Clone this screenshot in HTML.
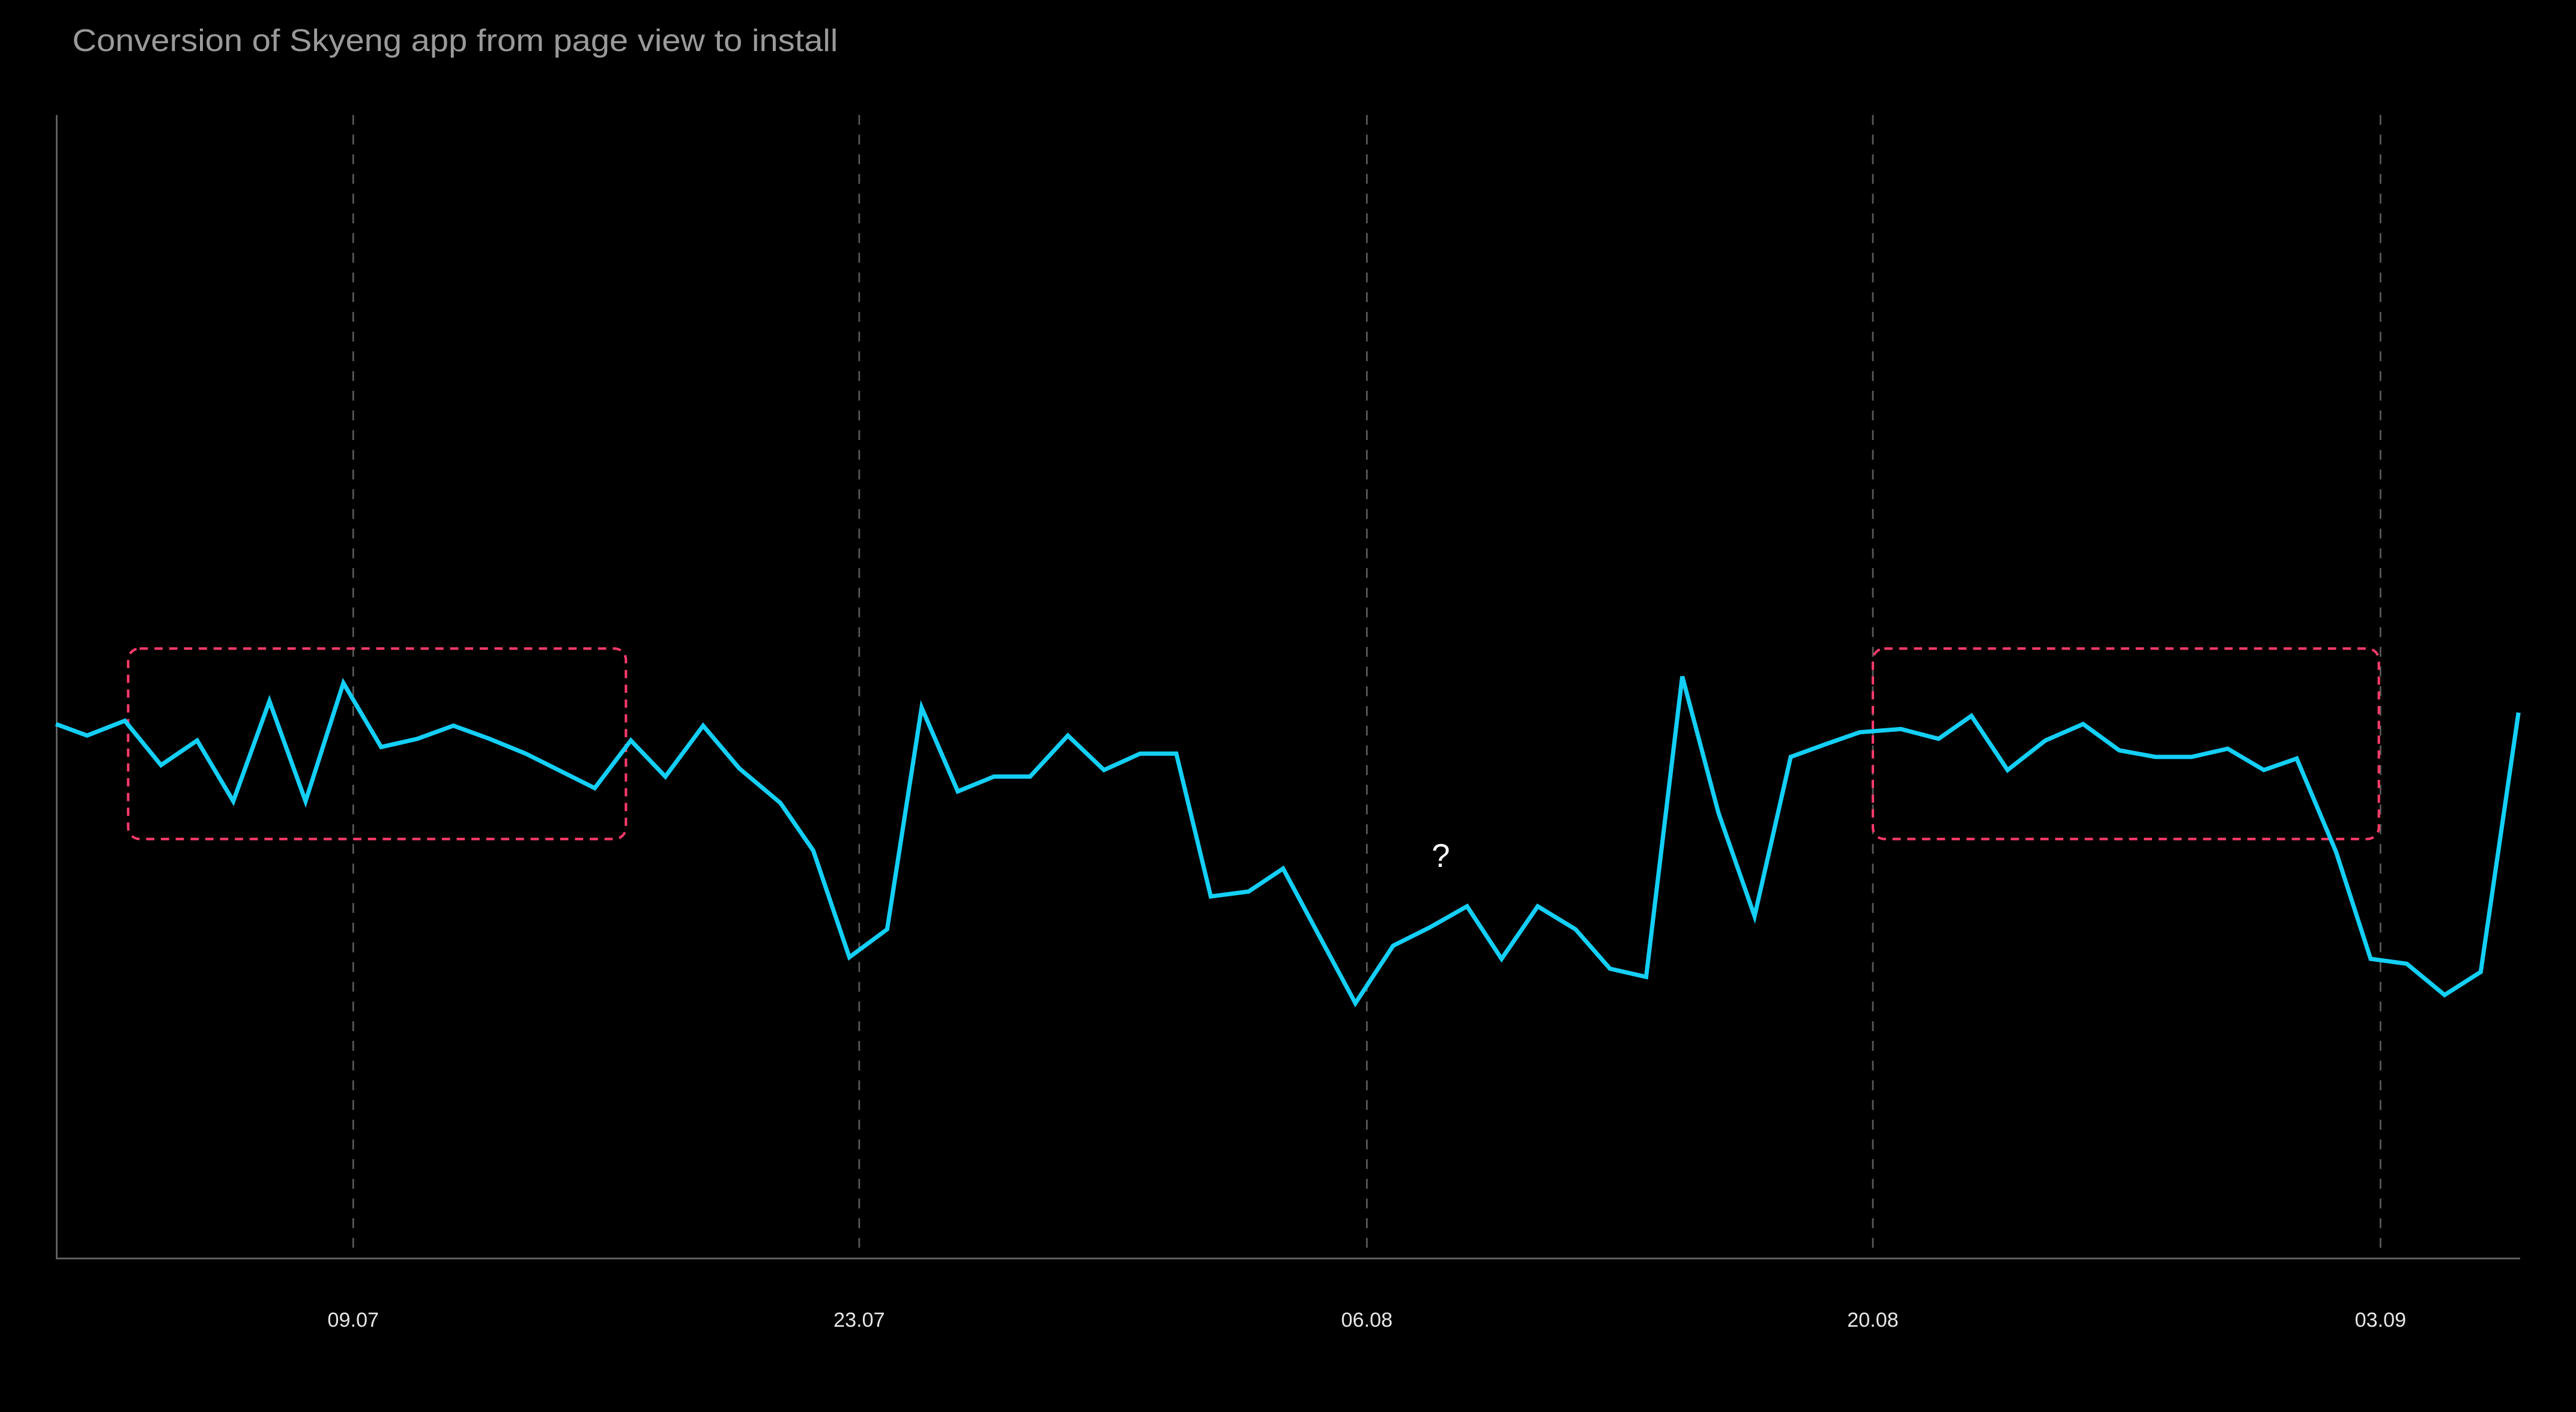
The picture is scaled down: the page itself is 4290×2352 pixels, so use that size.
<!DOCTYPE html>
<html><head><meta charset="utf-8"><style>
html,body{margin:0;padding:0;background:#000;}
svg{display:block;}
</style></head><body>
<svg width="4290" height="2352" viewBox="0 0 1568 860" preserveAspectRatio="none" xmlns="http://www.w3.org/2000/svg">
<rect width="1568" height="860" fill="#000"/>
<text x="44" y="31" font-family="Liberation Sans, sans-serif" font-size="19" fill="#9a9a9a" textLength="466" lengthAdjust="spacingAndGlyphs">Conversion of Skyeng app from page view to install</text>
<g stroke="#5a5a5a" stroke-width="1" stroke-dasharray="6,6">
<line x1="215" y1="70" x2="215" y2="766"/>
<line x1="523" y1="70" x2="523" y2="766"/>
<line x1="832" y1="70" x2="832" y2="766"/>
<line x1="1140" y1="70" x2="1140" y2="766"/>
<line x1="1449" y1="70" x2="1449" y2="766"/>
</g>
<line x1="34.5" y1="70" x2="34.5" y2="766" stroke="#666" stroke-width="1"/>
<line x1="34" y1="766.5" x2="1534" y2="766.5" stroke="#666" stroke-width="1"/>
<g font-family="Liberation Sans, sans-serif" font-size="12.5" fill="#e6e6e6" text-anchor="middle">
<text x="215" y="808">09.07</text>
<text x="523" y="808">23.07</text>
<text x="832" y="808">06.08</text>
<text x="1140" y="808">20.08</text>
<text x="1449" y="808">03.09</text>
</g>
<g fill="none" stroke="#ff3b6b" stroke-width="1.5" stroke-dasharray="5,4">
<rect x="78" y="395" width="303" height="116" rx="7"/>
<rect x="1140" y="395" width="308" height="116" rx="7"/>
</g>
<polyline fill="none" stroke="#14cff6" stroke-width="2.6" stroke-linejoin="miter" points="34,441 53,448 76,439 98,466 120,451 142,488 164,427 186,488 209,416 232,455 254,450 276,442 298,450 320,459 342,470 362,480 384,451 405,473 428,442 450,468 475,489 495,518 517,583 540,566 561,431 583,482 605,473 627,473 650,448 672,469 694,459 716,459 737,546 760,543 781,529 803,570 825,611 848,576 870,565 893,552 914,584 936,552 959,566 980,590 1002,595 1024,412 1046,495 1068,558 1090,461 1112,453 1132,446 1157,444 1180,450 1200,436 1222,469 1245,451 1268,441 1290,457 1312,461 1334,461 1356,456 1378,469 1398,462 1422,519 1443,584 1465,587 1488,606 1510,592 1533,434"/>
<text x="877" y="528" font-family="Liberation Sans, sans-serif" font-size="20" fill="#ffffff" text-anchor="middle">?</text>
</svg>
</body></html>
